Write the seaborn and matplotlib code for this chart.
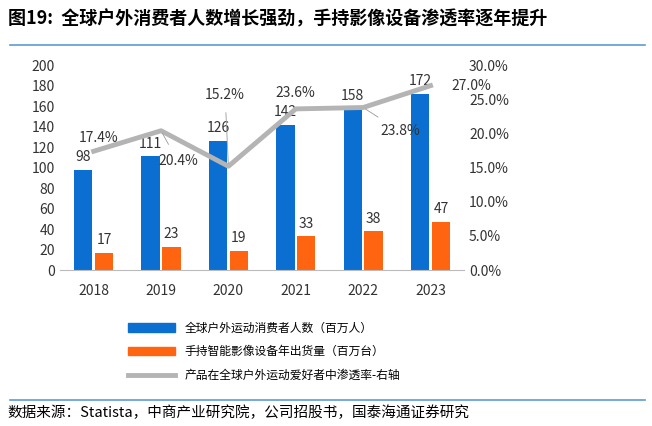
import pandas as pd
import matplotlib.pyplot as plt
import seaborn as sns
from matplotlib.lines import Line2D
from matplotlib.patches import Patch

plt.rcParams["font.family"] = ["Noto Sans CJK SC", "DejaVu Sans"]

years = ["2018", "2019", "2020", "2021", "2022", "2023"]
consumers = [98, 111, 126, 142, 158, 172]
shipments = [17, 23, 19, 33, 38, 47]
penetration = [17.4, 20.4, 15.2, 23.6, 23.8, 27.0]

s1 = "全球户外运动消费者人数（百万人）"
s2 = "手持智能影像设备年出货量（百万台）"
s3 = "产品在全球户外运动爱好者中渗透率-右轴"
blue, orange, grey = "#0a6fd0", "#ff6410", "#b4b4b4"

df = pd.DataFrame({"year": years * 2, "value": consumers + shipments,
                   "series": [s1] * 6 + [s2] * 6})

fig = plt.figure(figsize=(6.52, 4.26), dpi=100)
ax = fig.add_axes([0.092, 0.366, 0.62, 0.481])
sns.barplot(data=df, x="year", y="value", hue="series", palette=[blue, orange],
            width=0.62, gap=0.12, ax=ax, legend=False, saturation=1)
ax.set_ylim(0, 200)
ax.set_yticks(range(0, 201, 20))
ax.set_xlabel("")
ax.set_ylabel("")
for c in ax.containers:
    ax.bar_label(c, padding=4, fontsize=10, color="#333333")
for s in ["top", "right", "left"]:
    ax.spines[s].set_visible(False)
ax.spines["bottom"].set_color("#bbbbbb")
ax.tick_params(length=0, labelsize=10, colors="#333333")
ax.tick_params(axis="x", pad=10)

ax2 = ax.twinx()
sns.lineplot(x=range(6), y=penetration, color=grey, lw=3.5, ax=ax2)
ax2.set_ylim(0, 30)
ax2.set_yticks(range(0, 31, 5))
ax2.set_yticklabels([f"{v:.1f}%" for v in range(0, 31, 5)])
for s in ["top", "right", "left", "bottom"]:
    ax2.spines[s].set_visible(False)
ax2.tick_params(length=0, labelsize=10, colors="#333333")
ax2.set_xlim(-0.5, 5.5)

offs = [(0.08, 2.0), (0.25, -4.5), (-0.05, 10.5), (0, 2.3), (0.55, -3.5), (0.6, 0)]
for i, (v, (dx, dy)) in enumerate(zip(penetration, offs)):
    ax2.annotate(f"{v:.1f}%", (i, v), (i + dx, v + dy), fontsize=10, color="#333333",
                 ha="center", va="center",
                 arrowprops=dict(arrowstyle="-", color="#999999", lw=0.6, shrinkA=6)
                 if i in (1, 2, 4) else None)

handles = [Patch(color=blue), Patch(color=orange), Line2D([], [], color=grey, lw=3.5)]
fig.legend(handles, [s1, s2, s3], loc="upper left", bbox_to_anchor=(0.18, 0.27),
           frameon=False, fontsize=8.5, handlelength=4, labelspacing=0.9)

fig.text(0.012, 0.955, "图19:  全球户外消费者人数增长强劲，手持影像设备渗透率逐年提升",
         fontsize=13, fontweight="bold", va="center", family="Noto Sans CJK SC")
fig.add_artist(Line2D([0.015, 0.99], [0.895, 0.895], color="#5b9bd5", lw=1.2))
fig.add_artist(Line2D([0.015, 0.99], [0.06, 0.06], color="#5b9bd5", lw=1.2))
fig.text(0.012, 0.03, "数据来源：Statista，中商产业研究院，公司招股书，国泰海通证券研究",
         fontsize=10.5, va="center")

fig.savefig("out.png", dpi=100)
